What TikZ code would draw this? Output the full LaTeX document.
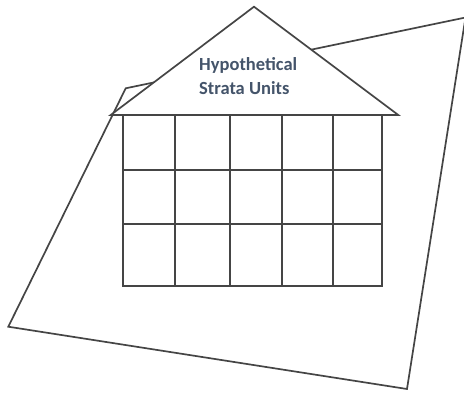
\documentclass[tikz,border=0pt]{standalone}
\usepackage{fontspec}
\setmainfont{Carlito}
\definecolor{linegray}{HTML}{454545}
\definecolor{textblue}{HTML}{44546A}
\tikzset{
  sheet/.style={draw=linegray, line width=1.7pt},
  house/.style={draw=linegray, line width=1.7pt, fill=white},
  roofText/.style={anchor=base west, inner sep=0pt, text=textblue,
    font=\fontsize{18.5}{24}\selectfont\bfseries}
}
\begin{document}
\begin{tikzpicture}[x=1pt, y=-1pt]
    \useasboundingbox (0,0) rectangle (464,392);

    % Tilted sheet behind the house
    \draw[sheet] (8.3,326.7) -- (125.7,88.3) -- (465.5,17.5) -- (407,389) -- cycle;

    % Roof
    \filldraw[house] (110.7,115) -- (254,6.7) -- (398.3,115) -- cycle;
    \node[roofText] (hypo) at (199,70) {Hypothetical};
    \node[roofText] (units) at (199,94.3) {Strata Units};

    % Grid of units
    \filldraw[house] (122.7,115) rectangle (382.3,286);
    \foreach \y in {170, 224.3} \draw[sheet] (122.7,\y) -- (383.3,\y);
    \foreach \x in {175.3, 229.7, 281.7, 332.7} \draw[sheet] (\x,115) -- (\x,286);
\end{tikzpicture}
\end{document}
